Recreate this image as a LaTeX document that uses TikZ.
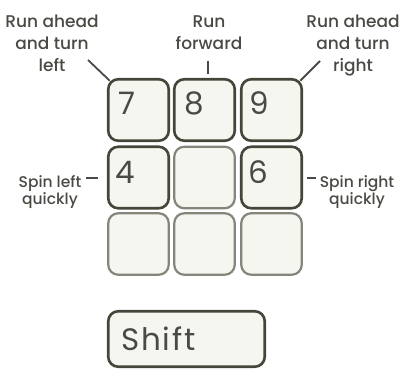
\documentclass[tikz,border=0pt]{standalone}
\usepackage{fontspec}
\setmainfont{Poppins}[UprightFont=* Medium]
\newfontfamily\shiftfont[LetterSpace=6]{Poppins}
\newfontfamily\digitfont{Poppins}
\usetikzlibrary{calc}
\definecolor{keyline}{HTML}{45453A}
\definecolor{keylight}{HTML}{85857C}
\definecolor{keyfill}{HTML}{F6F6F0}
\definecolor{txt}{HTML}{4A4A45}
\tikzset{
  keybox/.style={draw=keyline, line width=2.6pt, fill=keyfill, rounded corners=10pt,
    minimum width=60.5pt, minimum height=61.5pt, inner sep=0pt, outer sep=0pt},
  keyfaint/.style={keybox, draw=keylight, line width=2.2pt},
  digit/.style={font=\digitfont\fontsize{31}{31}\selectfont, text=txt, inner sep=0pt},
  lbl/.style={font=\fontsize{17}{22}\selectfont, text=txt, align=center, inner sep=0pt, anchor=base},
  slbl/.style={lbl, font=\fontsize{15.5}{17}\selectfont},
  conn/.style={draw=txt, line width=1.8pt}
}
\begin{document}
\begin{tikzpicture}[x=1pt,y=-1pt]
\useasboundingbox (0,0) rectangle (402,371);
% keys
\node[keybox]  (k7) at (138.5,110) {};
\node[keybox]  (k8) at (204.5,110) {};
\node[keybox]  (k9) at (271.5,110) {};
\node[keybox]  (k4) at (138.5,177.5) {};
\node[keyfaint](k5) at (204.5,177.5) {};
\node[keybox]  (k6) at (271.5,177.5) {};
\node[keyfaint](k1) at (138.5,244) {};
\node[keyfaint](k2) at (204.5,244) {};
\node[keyfaint](k3) at (271.5,244) {};
\node[keybox, minimum width=156.5pt, minimum height=55.5pt] (ks) at (186.5,339) {};
% digits
\node[digit, xshift=-12pt, yshift=6.5pt] (d7) at (k7) {7};
\node[digit, xshift=-10pt, yshift=6.5pt] (d8) at (k8) {8};
\node[digit, xshift=-12pt, yshift=6.5pt] (d9) at (k9) {9};
\node[digit, xshift=-13pt, yshift=5pt] (d4) at (k4) {4};
\node[digit, xshift=-13pt, yshift=5pt] (d6) at (k6) {6};
\node[font=\shiftfont\fontsize{31}{31}\selectfont, text=txt, inner sep=0pt, anchor=west] (st) at (121,339) {Shift};
% labels (anchor base = last line baseline)
\node[lbl] (lL) at (52,72) {Run ahead\\and turn\\left};
\node[lbl] (lF) at (209,50) {Run\\forward};
\node[lbl] (lR) at (353,72) {Run ahead\\and turn\\right};
\node[slbl] (lSL) at (50,205) {Spin left\\quickly};
\node[slbl] (lSR) at (357,205) {Spin right\\quickly};
% connectors
\coordinate (cL) at (88,60);
\coordinate (cF) at (208,61);
\coordinate (cR) at (320,61);
\coordinate (cSL) at (86,178);
\coordinate (cSR) at (316,178);
\draw[conn] (cL) -- ($(k7.north west)+(1.5,1.5)$);
\draw[conn] (cF) -- ($(k8.north)+(3.5,-5)$);
\draw[conn] (cR) -- ($(k9.north east)+(-1.5,1.5)$);
\draw[conn] (cSL) -- ($(k4.west)+(-10,0.5)$);
\draw[conn] (cSR) -- ($(k6.east)+(5,0.5)$);
\end{tikzpicture}
\end{document}
